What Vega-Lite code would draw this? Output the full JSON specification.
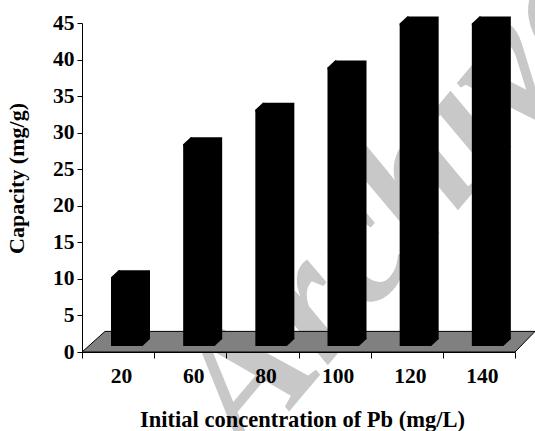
{
  "$schema": "https://vega.github.io/schema/vega-lite/v6.json",
  "width": 433,
  "height": 329,
  "autosize": {"type": "none"},
  "padding": {"left": 82, "top": 23, "right": 20, "bottom": 79},
  "background": "white",
  "config": {
    "view": {"stroke": null},
    "font": "Liberation Serif",
    "axisX": {
      "tickBand": "extent",
      "labelAngle": 0,
      "grid": false,
      "domainColor": "black",
      "tickColor": "black",
      "tickSize": 6,
      "labelFont": "Liberation Serif",
      "labelFontSize": 21.5,
      "labelFontWeight": "bold",
      "labelColor": "black",
      "labelPadding": 7,
      "labelOffset": 3,
      "titleFont": "Liberation Serif",
      "titleFontSize": 22.5,
      "titleFontWeight": "bold",
      "titleColor": "black",
      "titleX": 220,
      "titleY": 74,
      "titleBaseline": "alphabetic",
      "titleAlign": "center"
    },
    "axisY": {
      "grid": false,
      "tickCount": 10,
      "labelOverlap": false,
      "domainColor": "black",
      "tickColor": "black",
      "tickSize": 5,
      "labelFont": "Liberation Serif",
      "labelFontSize": 21.5,
      "labelFontWeight": "bold",
      "labelColor": "black",
      "labelPadding": 3,
      "titleFont": "Liberation Serif",
      "titleFontSize": 22,
      "titleFontWeight": "bold",
      "titleColor": "black",
      "titleX": -59,
      "titleY": 155,
      "titleBaseline": "alphabetic",
      "titleAlign": "center",
      "titleAngle": -90
    }
  },
  "data": {
    "values": [
      {"conc": "20", "capacity": 9.4},
      {"conc": "60", "capacity": 27.6},
      {"conc": "80", "capacity": 32.3},
      {"conc": "100", "capacity": 38.1},
      {"conc": "120", "capacity": 44.1},
      {"conc": "140", "capacity": 44.1}
    ]
  },
  "layer": [
    {
      "data": {"values": [{"label": "Archive"}]},
      "mark": {"type": "text", "font": "Liberation Serif", "fontStyle": "italic", "fontWeight": "bold", "fontSize": 180, "angle": -50, "color": "#c8c8c8", "align": "left", "baseline": "alphabetic", "xOffset": -14, "yOffset": 272.5},
      "encoding": {
        "text": {"field": "label"},
        "x": {"datum": "80", "type": "ordinal", "title": "Initial concentration of Pb (mg/L)", "axis": {"zindex": 1}, "scale": {"domain": ["20", "60", "80", "100", "120", "140"], "paddingInner": 0, "paddingOuter": 0}}
      }
    },
    {
      "data": {"values": [{"part": "floor"}]},
      "mark": {"type": "point", "shape": "M-36.08,0L-13.08,-20.6L416.92,-20.6L396.92,0Z", "size": 4, "filled": true, "fill": "#808080", "stroke": "black", "strokeWidth": 1, "opacity": 1, "yOffset": 164.5},
      "encoding": {
        "x": {"datum": "20", "type": "ordinal", "title": "Initial concentration of Pb (mg/L)", "axis": {"zindex": 1}}
      }
    },
    {
      "mark": {"type": "bar", "width": 31.5, "xOffset": 16.17, "yOffset": -13, "y2Offset": -13, "color": "black"},
      "encoding": {
        "x": {"field": "conc", "type": "ordinal", "sort": null, "title": "Initial concentration of Pb (mg/L)", "axis": {"zindex": 1}},
        "y": {"field": "capacity", "type": "quantitative", "title": "Capacity (mg/g)", "scale": {"domain": [0, 45], "nice": false}, "axis": {"values": [0, 5, 10, 15, 20, 25, 30, 35, 40, 45], "tickCount": 10, "zindex": 1}}
      }
    },
    {
      "mark": {"type": "bar", "width": 31.5, "xOffset": 8.67, "yOffset": -6, "y2Offset": -6, "color": "black"},
      "encoding": {
        "x": {"field": "conc", "type": "ordinal", "sort": null, "title": "Initial concentration of Pb (mg/L)", "axis": {"zindex": 1}},
        "y": {"field": "capacity", "type": "quantitative", "title": "Capacity (mg/g)", "axis": {"values": [0, 5, 10, 15, 20, 25, 30, 35, 40, 45], "tickCount": 10, "zindex": 1}}
      }
    },
    {
      "mark": {"type": "point", "shape": "M-7.08,-6L0.42,-13L2,-13L2,-4L-7.08,-4Z", "size": 4, "filled": true, "fill": "black", "strokeWidth": 0, "opacity": 1},
      "encoding": {
        "x": {"field": "conc", "type": "ordinal", "sort": null, "title": "Initial concentration of Pb (mg/L)", "axis": {"zindex": 1}},
        "y": {"field": "capacity", "type": "quantitative", "title": "Capacity (mg/g)", "axis": {"values": [0, 5, 10, 15, 20, 25, 30, 35, 40, 45], "tickCount": 10, "zindex": 1}}
      }
    },
    {
      "mark": {"type": "point", "shape": "M24.42,-6L31.92,-13L31.92,-14L22,-14L22,-6Z", "size": 4, "filled": true, "fill": "black", "strokeWidth": 0, "opacity": 1},
      "encoding": {
        "x": {"field": "conc", "type": "ordinal", "sort": null, "title": "Initial concentration of Pb (mg/L)", "axis": {"zindex": 1}},
        "y": {"datum": 0, "type": "quantitative", "title": "Capacity (mg/g)", "axis": {"values": [0, 5, 10, 15, 20, 25, 30, 35, 40, 45], "tickCount": 10, "zindex": 1}}
      }
    }
  ]
}
